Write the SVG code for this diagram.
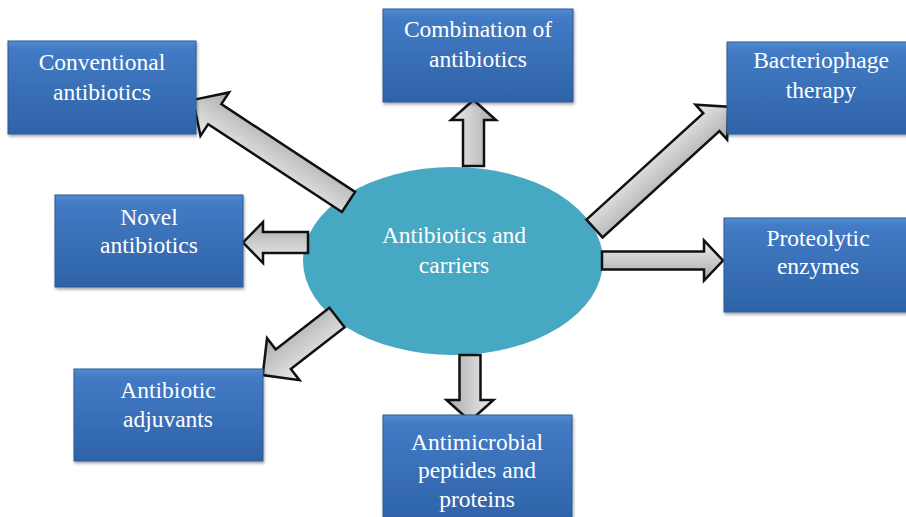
<svg xmlns="http://www.w3.org/2000/svg" width="906" height="517" viewBox="0 0 906 517">
<defs>
<linearGradient id="boxg" x1="0" y1="0" x2="0" y2="1">
<stop offset="0" stop-color="#538cd2"/>
<stop offset="0.08" stop-color="#437bc5"/>
<stop offset="1" stop-color="#2e63a8"/>
</linearGradient>
<linearGradient id="arrg" x1="0" y1="0" x2="0" y2="1">
<stop offset="0" stop-color="#ececec"/>
<stop offset="1" stop-color="#ababab"/>
</linearGradient>
<filter id="sh" x="-5%" y="-5%" width="112%" height="120%">
<feDropShadow dx="1" dy="2" stdDeviation="1.5" flood-color="#000" flood-opacity="0.35"/>
</filter>
</defs>
<style>
.box{fill:url(#boxg);stroke:#2b5a96;stroke-width:1;filter:url(#sh)}
.t{font-family:"Liberation Serif","Times New Roman",serif;font-size:23.5px;fill:#ffffff;text-anchor:middle}
.arr{fill:url(#arrg);stroke:#111;stroke-width:2.5;stroke-linejoin:miter}
</style>
<rect x="0" y="0" width="906" height="517" fill="#ffffff"/>

<g id="center">
<ellipse cx="453" cy="261" rx="150" ry="94" fill="#46a8c3"/>
<text class="t" x="454" y="243">Antibiotics and</text>
<text class="t" x="454" y="273">carriers</text>
</g>

<g id="connectors">
<path class="arr" transform="translate(473.5,166) rotate(-90)" d="M0,-10.5 L46,-10.5 L46,-22.5 L66,0 L46,22.5 L46,10.5 L0,10.5 Z"/>
<path class="arr" transform="translate(470,355) rotate(90)" d="M0,-10.5 L45,-10.5 L45,-23.5 L66,0 L45,23.5 L45,10.5 L0,10.5 Z"/>
<path class="arr" transform="translate(308,242.5) rotate(180)" d="M0,-10.5 L45,-10.5 L45,-20.5 L65,0 L45,20.5 L45,10.5 L0,10.5 Z"/>
<path class="arr" transform="translate(602,260.5)" d="M0,-9 L102,-9 L102,-20 L121,0 L102,20 L102,9 L0,9 Z"/>
<path class="arr" transform="translate(348.5,202) rotate(213.3)" d="M0,-12 L160,-12 L160,-26 L186,0 L160,26 L160,12 L0,12 Z"/>
<path class="arr" transform="translate(594.5,228.5) rotate(-42.3)" d="M0,-12 L158,-12 L158,-23.5 L181,0 L158,23.5 L158,12 L0,12 Z"/>
<path class="arr" transform="translate(337,317.5) rotate(142.2)" d="M0,-12.4 L68,-12.4 L68,-26.5 L94,0 L68,26.5 L68,12.4 L0,12.4 Z"/>
</g>

<g id="conventional">
<rect class="box" x="8" y="41" width="188" height="93"/>
<text class="t" x="102" y="70">Conventional</text>
<text class="t" x="102" y="100">antibiotics</text>
</g>

<g id="novel">
<rect class="box" x="55" y="195" width="188" height="92"/>
<text class="t" x="149" y="225">Novel</text>
<text class="t" x="149" y="253">antibiotics</text>
</g>

<g id="combination">
<rect class="box" x="383" y="9" width="190" height="93"/>
<text class="t" x="478" y="37">Combination of</text>
<text class="t" x="478" y="67">antibiotics</text>
</g>

<g id="bacteriophage">
<rect class="box" x="727" y="42" width="190" height="92"/>
<text class="t" x="821" y="68">Bacteriophage</text>
<text class="t" x="821" y="98">therapy</text>
</g>

<g id="proteolytic">
<rect class="box" x="724" y="218" width="190" height="94"/>
<text class="t" x="818" y="246">Proteolytic</text>
<text class="t" x="818" y="274">enzymes</text>
</g>

<g id="adjuvants">
<rect class="box" x="74" y="369" width="189" height="92"/>
<text class="t" x="168" y="398">Antibiotic</text>
<text class="t" x="168" y="427">adjuvants</text>
</g>

<g id="antimicrobial">
<rect class="box" x="383" y="415" width="189" height="106"/>
<text class="t" x="477" y="450">Antimicrobial</text>
<text class="t" x="477" y="478">peptides and</text>
<text class="t" x="477" y="507">proteins</text>
</g>
</svg>
